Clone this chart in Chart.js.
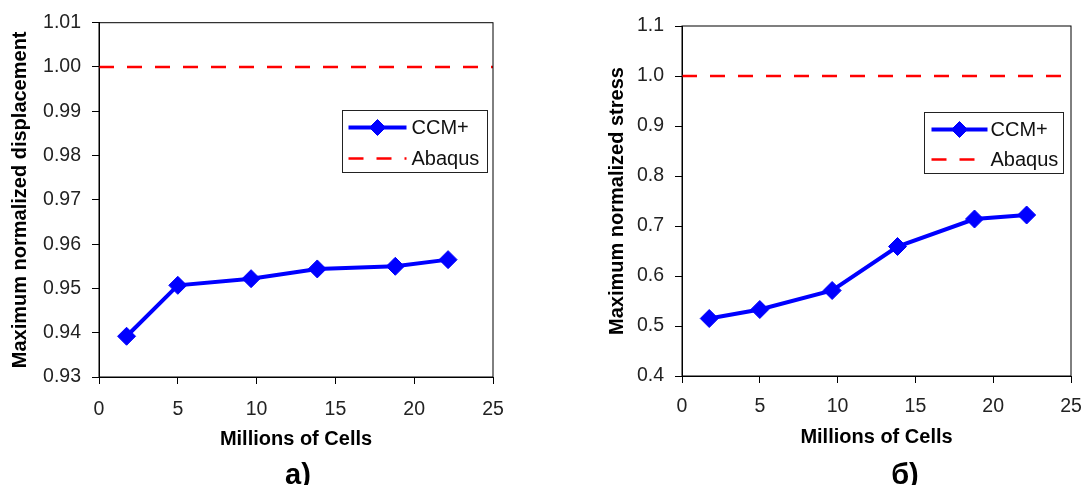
<!DOCTYPE html>
<html>
<head>
<meta charset="utf-8">
<script src="https://cdn.jsdelivr.net/npm/chart.js@4.4.1/dist/chart.umd.min.js"></script>
<style>
  body { margin: 0; background: #fff; }
  #wrap { position: relative; width: 1086px; height: 485px; overflow: hidden; }
  .panel { position: absolute; top: 0; }
  .cap { position: absolute; top: 460px; font: bold 29px "Liberation Sans", Arial, sans-serif; line-height: 28px; transform: translateX(-50%); color: #000; }
</style>
</head>
<body>
<div id="wrap">
  <div class="panel" style="left:0"><canvas id="dispChart" width="520" height="485"></canvas></div>
  <div class="panel" style="left:560px"><canvas id="stressChart" width="526" height="485"></canvas></div>
  <div class="cap" style="left:298px">a)</div>
  <div class="cap" style="left:905px">б)</div>
</div>
<script>
// Data
const cells = [1.75, 5.0, 9.65, 13.85, 18.8, 22.15]; // millions of cells
const displacement = [0.9392, 0.9507, 0.9522, 0.9544, 0.9550, 0.9565];
const stress = [0.515, 0.533, 0.571, 0.659, 0.714, 0.722];
const abaqusX = [0, 25];
const abaqusY = [1.0, 1.0];

const xTitle = "Millions of Cells";
const dispTitle = "Maximum normalized displacement";
const stressTitle = "Maximum normalized stress";
const seriesNames = ["CCM+", "Abaqus"];

const FONT = '"Liberation Sans", Arial, sans-serif';

// draws the box round the plot and the boxed legend inside it
const frameAndLegend = {
  id: "frameAndLegend",
  afterDraw(chart, args, opts) {
    const { ctx, chartArea } = chart;
    ctx.save();
    ctx.strokeStyle = "#000";
    ctx.lineWidth = 1;
    ctx.strokeRect(chartArea.left, chartArea.top, chartArea.right - chartArea.left, chartArea.bottom - chartArea.top);

    const x = Math.round(chartArea.right - opts.offsetRight - opts.width) + 0.5;
    const y = Math.round(chartArea.top + opts.offsetTop) + 0.5;
    ctx.fillStyle = "#fff";
    ctx.fillRect(x, y, opts.width, opts.height);
    ctx.strokeStyle = "#222";
    ctx.strokeRect(x, y, opts.width, opts.height);

    chart.data.datasets.forEach((ds, i) => {
      const rowY = y + opts.rowTop + i * opts.rowGap;
      const x0 = x + opts.sampleLeft;
      const x1 = x0 + opts.sampleLen;
      ctx.strokeStyle = ds.borderColor;
      ctx.lineWidth = ds.borderWidth;
      ctx.setLineDash(ds.borderDash || []);
      ctx.beginPath();
      ctx.moveTo(x0, rowY);
      ctx.lineTo(x1, rowY);
      ctx.stroke();
      ctx.setLineDash([]);
      if (ds.pointRadius > 0) {
        ctx.fillStyle = ds.pointBackgroundColor;
        ctx.strokeStyle = ds.pointBorderColor;
        ctx.lineWidth = ds.pointBorderWidth;
        Chart.helpers.drawPoint(ctx, { pointStyle: ds.pointStyle, rotation: 0, radius: ds.pointRadius - 1, borderWidth: ds.pointBorderWidth }, (x0 + x1) / 2, rowY);
      }
      ctx.fillStyle = "#111";
      ctx.font = "20px " + FONT;
      ctx.textBaseline = "middle";
      ctx.textAlign = "left";
      ctx.fillText(ds.label, x + opts.textLeft, rowY + 1);
    });
    ctx.restore();
  }
};

function makeChart(id, values, yMin, yMax, yStep, decimals, yTitle, geo) {
  const ctx = document.getElementById(id).getContext("2d");
  return new Chart(ctx, {
    type: "line",
    data: {
      datasets: [
        {
          label: seriesNames[0],
          data: cells.map((c, i) => ({ x: c, y: values[i] })),
          borderColor: "#0000ff",
          backgroundColor: "#0000ff",
          borderWidth: 4,
          pointStyle: "rectRot",
          pointRadius: 9,
          pointBackgroundColor: "#0000ff",
          pointBorderColor: "#0000ff",
          pointBorderWidth: 1,
          tension: 0
        },
        {
          label: seriesNames[1],
          data: abaqusX.map((c, i) => ({ x: c, y: abaqusY[i] })),
          borderColor: "#ff0000",
          borderWidth: 2.5,
          borderDash: [15, 13],
          pointRadius: 0,
          tension: 0
        }
      ]
    },
    options: {
      responsive: false,
      animation: false,
      layout: { padding: { left: 0, right: geo.padRight, top: geo.padTop, bottom: 0 } },
      plugins: {
        legend: { display: false },
        tooltip: { enabled: false },
        frameAndLegend: geo.legend
      },
      scales: {
        x: {
          type: "linear",
          min: 0,
          max: 25,
          afterFit: s => {
            s.height = geo.xHeight;
            s.paddingLeft = 0;
            s.paddingRight = 0;
          },
          ticks: { stepSize: 5, padding: geo.xTickPad, color: "#222", font: { family: FONT, size: 19.5 } },
          grid: { drawOnChartArea: false, drawTicks: true, tickLength: 7, tickColor: "#000" },
          border: { color: "#000", width: 1 },
          title: { display: true, text: xTitle, color: "#000", font: { family: FONT, size: 20, weight: "bold" }, padding: { top: 0, bottom: geo.xTitlePad } }
        },
        y: {
          min: yMin,
          max: yMax,
          afterFit: s => { s.width = geo.yWidth; },
          ticks: { stepSize: yStep, padding: 11, color: "#222", font: { family: FONT, size: 19.5 }, callback: v => v.toFixed(decimals) },
          grid: { drawOnChartArea: false, drawTicks: true, tickLength: 7, tickColor: "#000" },
          border: { color: "#000", width: 1 },
          title: { display: true, text: yTitle, color: "#000", font: { family: FONT, size: 20, weight: "bold" }, padding: { top: geo.yTitlePad, bottom: 0 } }
        }
      }
    },
    plugins: [frameAndLegend]
  });
}

makeChart("dispChart", displacement, 0.93, 1.01, 0.01, 2, dispTitle, {
  padRight: 27, padTop: 21, xHeight: 108, yWidth: 99, xTickPad: 14, xTitlePad: 34, yTitlePad: 8,
  legend: { offsetRight: 6, offsetTop: 87, width: 145, height: 62, rowTop: 17, rowGap: 31, sampleLeft: 6, sampleLen: 58, textLeft: 69 }
});

makeChart("stressChart", stress, 0.4, 1.1, 0.1, 1, stressTitle, {
  padRight: 15, padTop: 26, xHeight: 109, yWidth: 122, xTickPad: 12, xTitlePad: 36, yTitlePad: 45,
  legend: { offsetRight: 8, offsetTop: 86, width: 139, height: 61, rowTop: 17, rowGap: 30, sampleLeft: 7, sampleLen: 56, textLeft: 66 }
});
</script>
</body>
</html>
